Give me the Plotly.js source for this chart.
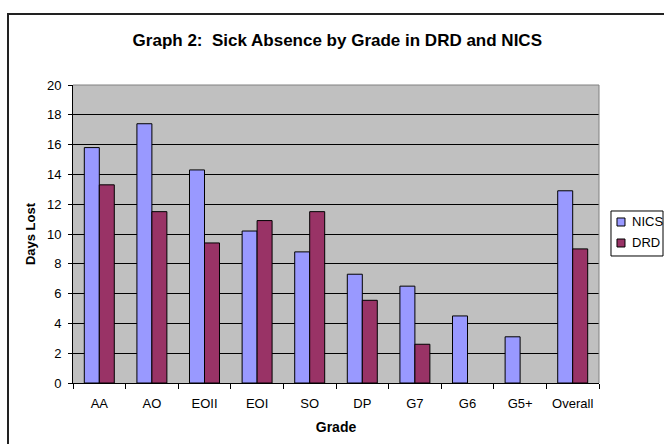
<!DOCTYPE html>
<html>
<head>
<meta charset="utf-8">
<script src="https://cdn.plot.ly/plotly-3.0.1.min.js"></script>
<style>
html,body{margin:0;padding:0;background:#fff;overflow:hidden;}
#wrap{position:relative;width:664px;height:444px;overflow:hidden;}
#chart{width:664px;height:444px;}
#frame{position:absolute;left:7px;top:13px;width:700px;height:460px;border-left:2px solid #222;border-top:2px solid #222;pointer-events:none;}
</style>
</head>
<body>
<div id="wrap"><div id="chart"></div><div id="frame"></div></div>
<script>
var grades = ["AA","AO","EOII","EOI","SO","DP","G7","G6","G5+","Overall"];
var nics = [15.8,17.4,14.3,10.2,8.8,7.3,6.5,4.5,3.1,12.9];
var drd = [13.3,11.5,9.4,10.9,11.5,5.55,2.6,null,null,9.0];
var seriesNames = ["NICS","DRD"];
var seriesColors = ["#9999FF","#993366"];
var yTicks = [0,2,4,6,8,10,12,14,16,18,20];

var font = "Arial, 'Liberation Sans', sans-serif";
var traces = [
  {type:"bar", name:seriesNames[0], x:grades, y:nics,
   marker:{color:seriesColors[0], line:{color:"#000", width:1}}},
  {type:"bar", name:seriesNames[1], x:grades, y:drd,
   marker:{color:seriesColors[1], line:{color:"#000", width:1}}}
];

// manual legend (Excel-style compact box) in paper coordinates
var legShapes = [
  {type:"rect", xref:"paper", yref:"paper", x0:1.0228, x1:1.1217, y0:0.4262, y1:0.5772, line:{color:"#000", width:1}, fillcolor:"#fff"},
  {type:"rect", xref:"paper", yref:"paper", x0:1.0342, x1:1.0494, y0:0.5268, y1:0.5537, line:{color:"#000", width:1}, fillcolor:seriesColors[0]},
  {type:"rect", xref:"paper", yref:"paper", x0:1.0342, x1:1.0494, y0:0.4564, y1:0.4832, line:{color:"#000", width:1}, fillcolor:seriesColors[1]}
];
var legAnn = [
  {xref:"paper", yref:"paper", x:1.0589, y:0.5403, xanchor:"left", yanchor:"middle", text:seriesNames[0], showarrow:false, font:{family:font, size:13, color:"#000"}},
  {xref:"paper", yref:"paper", x:1.0589, y:0.4698, xanchor:"left", yanchor:"middle", text:seriesNames[1], showarrow:false, font:{family:font, size:13, color:"#000"}}
];

var layout = {
  width:664, height:444,
  margin:{l:73, r:65, t:85, b:61, autoexpand:false},
  paper_bgcolor:"#fff", plot_bgcolor:"#C0C0C0",
  font:{family:font, size:13, color:"#000"},
  title:{text:"<b>Graph 2:  Sick Absence by Grade in DRD and NICS</b>", font:{family:font, size:17, color:"#000"}, x:0.508, xanchor:"center", y:0.91, yanchor:"middle"},
  barmode:"group", bargap:0.43, bargroupgap:0,
  showlegend:false,
  xaxis:{type:"category", showline:true, linecolor:"#000", linewidth:1, ticks:"outside", ticklen:5, tickcolor:"#000", tickson:"boundaries", showgrid:false,
    ticklabelstandoff:8,
    title:{text:"<b>Grade</b>", font:{family:font, size:14}, standoff:12}, tickfont:{family:font, size:13}},
  yaxis:{range:[0,20], tickvals:yTicks, showline:true, linecolor:"#000", linewidth:1, ticks:"outside", ticklen:4, tickcolor:"#000",
    ticklabelstandoff:4,
    showgrid:true, gridcolor:"#000", gridwidth:1, zeroline:false,
    title:{text:"<b>Days Lost</b>", font:{family:font, size:13}, standoff:8}, tickfont:{family:font, size:13}},
  shapes:[
    {type:"line", xref:"paper", yref:"paper", x0:0, x1:1, y0:1, y1:1, line:{color:"#808080", width:1}},
    {type:"line", xref:"paper", yref:"paper", x0:1, x1:1, y0:0, y1:1, line:{color:"#808080", width:1}}
  ].concat(legShapes),
  annotations:legAnn
};
Plotly.newPlot("chart", traces, layout, {displayModeBar:false, staticPlot:true});
</script>
</body>
</html>
